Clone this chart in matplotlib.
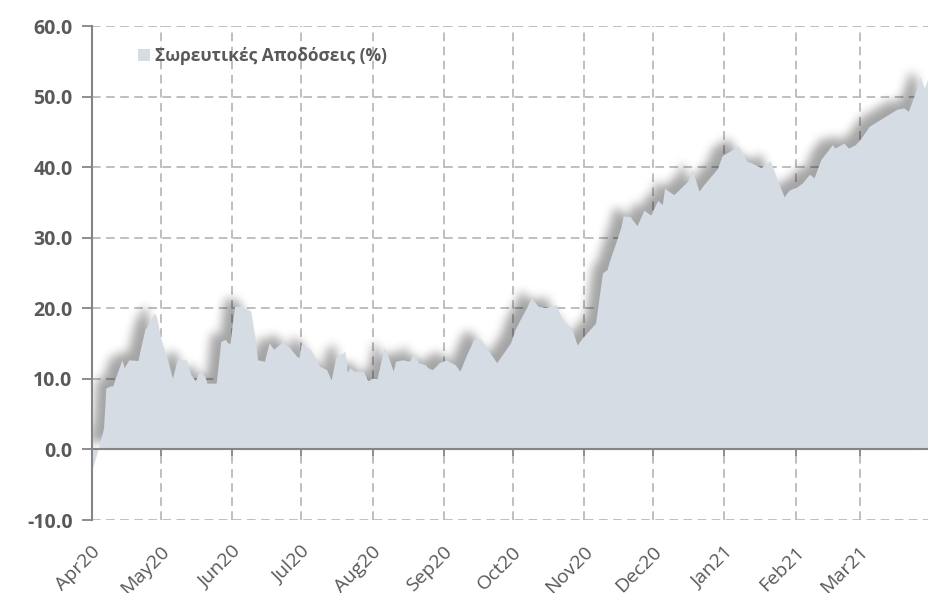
import numpy as np
import pandas as pd
import matplotlib
matplotlib.use("Agg")
import matplotlib.pyplot as plt
import matplotlib.dates as mdates
import matplotlib.transforms as mtransforms
from matplotlib.patches import Patch, Rectangle

plt.rcParams['font.family'] = ['Open Sans', 'DejaVu Sans']

# ---------------- data ----------------
start_date = "2020-04-01"
day_offsets = [0, 3, 5, 6, 8, 9, 12, 13, 14, 16, 20, 21, 23, 24, 27, 28, 30, 33, 35, 37,
               41, 43, 45, 46, 47, 49, 50, 54, 56, 58, 59, 60, 62, 65, 69, 71, 72, 75, 77, 79,
               83, 86, 89, 90, 91, 95, 97, 99, 102, 104, 106, 110, 111, 112, 114, 118, 120, 122, 124, 127,
               129, 131, 132, 135, 138, 140, 142, 145, 146, 148, 151, 154, 158, 160, 163, 166, 169, 172, 176, 179,
               182, 184, 186, 189, 191, 194, 197, 202, 204, 208, 209, 211, 213, 219, 221, 222, 224, 225, 228, 230,
               231, 234, 237, 240, 243, 246, 248, 249, 253, 259, 261, 264, 266, 272, 274, 281, 285, 287, 291, 295,
               298, 301, 303, 307, 309, 312, 314, 317, 322, 323, 327, 329, 332, 334, 338, 344, 350, 353, 355, 358,
               360, 362, 364]
cum_returns = [-3.0, 0.5, 3.0, 8.7, 9.0, 9.0, 11.8, 12.7, 11.6, 12.7, 12.6, 14.2, 17.0, 17.5, 19.3, 18.9, 15.6, 12.5, 10.1, 12.7,
               12.7, 10.6, 9.7, 10.6, 11.1, 10.4, 9.4, 9.4, 15.3, 15.6, 15.1, 15.0, 20.3, 20.3, 19.6, 15.6, 12.7, 12.5, 15.1, 14.2,
               15.3, 14.4, 13.2, 13.0, 14.9, 14.2, 13.0, 11.8, 11.3, 9.9, 13.0, 13.9, 10.9, 11.6, 11.1, 11.1, 9.7, 10.1, 10.1, 14.4,
               13.0, 11.1, 12.5, 12.7, 12.5, 13.7, 12.3, 12.0, 11.6, 11.3, 12.3, 12.7, 12.0, 11.1, 13.5, 15.6, 15.6, 14.2, 12.3, 13.7,
               15.1, 17.0, 18.3, 20.1, 21.5, 20.3, 20.1, 20.5, 18.7, 17.3, 16.8, 14.8, 15.7, 17.9, 22.7, 25.0, 25.5, 26.7, 29.5, 31.5,
               33.1, 33.0, 31.7, 33.9, 33.2, 35.3, 34.7, 37.0, 36.1, 38.0, 39.7, 36.6, 37.5, 39.8, 41.6, 43.0, 40.8, 40.6, 39.9, 40.9,
               38.2, 35.8, 36.7, 37.3, 37.8, 39.0, 38.5, 41.1, 43.2, 42.7, 43.4, 42.7, 43.2, 43.9, 45.8, 47.0, 48.2, 48.4, 47.9, 50.5,
               52.8, 51.2, 53.0]
month_starts = ["2020-04-01", "2020-05-01", "2020-06-01", "2020-07-01", "2020-08-01", "2020-09-01",
                "2020-10-01", "2020-11-01", "2020-12-01", "2021-01-01", "2021-02-01", "2021-03-01"]
month_labels = ["Apr20", "May20", "Jun20", "Jul20", "Aug20", "Sep20",
                "Oct20", "Nov20", "Dec20", "Jan21", "Feb21", "Mar21"]
y_ticks = [-10, 0, 10, 20, 30, 40, 50, 60]
series_name = "Σωρευτικές Αποδόσεις (%)"

dates = pd.Timestamp(start_date) + pd.to_timedelta(day_offsets, unit="D")
xnum = mdates.date2num(dates)
month_num = mdates.date2num(pd.to_datetime(month_starts))

# ---------------- styles ----------------
FILL = "#d6dce4"
TXT = "#595959"
AX = "#858585"
GRID = "#bababa"
DASH = (0, (4.8, 3.0))


def blur1d(a, sigma, axis):
    r = int(3 * sigma)
    k = np.exp(-np.arange(-r, r + 1) ** 2 / (2 * sigma ** 2))
    k /= k.sum()
    out = np.zeros_like(a)
    for i, w in zip(range(-r, r + 1), k):
        out += w * np.roll(a, i, axis=axis)
    return out


class ShadowFilter:
    def __init__(self, sigma, dx, dy, alpha, color=(0, 0, 0)):
        self.sigma, self.dx, self.dy, self.alpha, self.color = sigma, dx, dy, alpha, color

    def __call__(self, im, dpi):
        pad = int(3 * self.sigma) + max(abs(self.dx), abs(self.dy)) + 2
        a = np.pad(im[..., 3], pad)
        a = blur1d(blur1d(a, self.sigma, 0), self.sigma, 1)
        a = np.roll(a, self.dx, axis=1)
        a = np.roll(a, -self.dy, axis=0)
        out = np.zeros(a.shape + (4,), dtype=float)
        out[..., 0], out[..., 1], out[..., 2] = self.color
        out[..., 3] = np.clip(a * self.alpha, 0, 1)
        return out, -pad, -pad


fig = plt.figure(figsize=(9.29, 5.93), dpi=100)
W, H = 929, 593
ax = fig.add_axes([92 / W, 1 - 520 / H, 837 / W, (520 - 26) / H])
ax.set_axisbelow(False)  # ticks, labels and spines on top

# dashed grid (drawn manually, below everything)
for yv in y_ticks:
    ax.axhline(yv, ls=DASH, color=GRID, lw=1.3, zorder=0.5)
for xv in month_num:
    ax.axvline(xv, ls=DASH, color=GRID, lw=1.3, zorder=0.5)

# shadow copy + area
shadow = ax.fill_between(xnum, 0, cum_returns, color="black", lw=0, zorder=1.5)
shadow.set_agg_filter(ShadowFilter(sigma=3.5, dx=-5, dy=4, alpha=0.6))
ax.fill_between(xnum, 0, cum_returns, color=FILL, lw=0, zorder=2)
# keep the shadow inside the plot area (mask to the left of the y axis)
ax.add_patch(Rectangle((0, 0), 91 / W, 1, transform=fig.transFigure, facecolor="white",
                       edgecolor="none", zorder=1.8, clip_on=False))

ax.set_xlim(mdates.date2num(pd.Timestamp(start_date)),
            mdates.date2num(pd.Timestamp(start_date) + pd.Timedelta(days=364)))
ax.set_ylim(-10, 60)

ax.set_yticks(y_ticks)
ax.set_yticklabels([f"{v:.1f}" for v in y_ticks], fontsize=14, fontweight="bold", color=TXT)
ax.set_xticks(month_num)
ax.tick_params(axis="x", labelbottom=False, length=5, width=1.3, color=AX, direction="out")
ax.tick_params(axis="y", length=7, width=1.3, color=AX, direction="out", pad=7)

for s in ["top", "right"]:
    ax.spines[s].set_visible(False)
ax.spines["left"].set_color(AX)
ax.spines["left"].set_linewidth(1.5)
ax.spines["bottom"].set_position(("data", 0))
ax.spines["bottom"].set_color(AX)
ax.spines["bottom"].set_linewidth(1.5)
ax.spines["bottom"].set_zorder(3)

# month labels below the plot
trans = mtransforms.blended_transform_factory(ax.transData, ax.transAxes) + \
    mtransforms.ScaledTranslation(4 / 72, -21 / 72, fig.dpi_scale_trans)
for xv, lab in zip(month_num, month_labels):
    ax.text(xv, 0, lab, transform=trans, rotation=45, ha="right", va="center",
            rotation_mode="anchor", fontsize=14, color=TXT, clip_on=False, zorder=5)

fig.legend(handles=[Patch(facecolor=FILL, edgecolor="none", label=series_name)],
           loc="center left", bbox_to_anchor=(138 / W, 1 - 56 / H), frameon=False,
           handlelength=0.7, handleheight=0.7, handletextpad=0.3, borderpad=0,
           borderaxespad=0, prop={"size": 12.5, "weight": "bold"}, labelcolor=TXT)

fig.savefig("out.png", dpi=100)
